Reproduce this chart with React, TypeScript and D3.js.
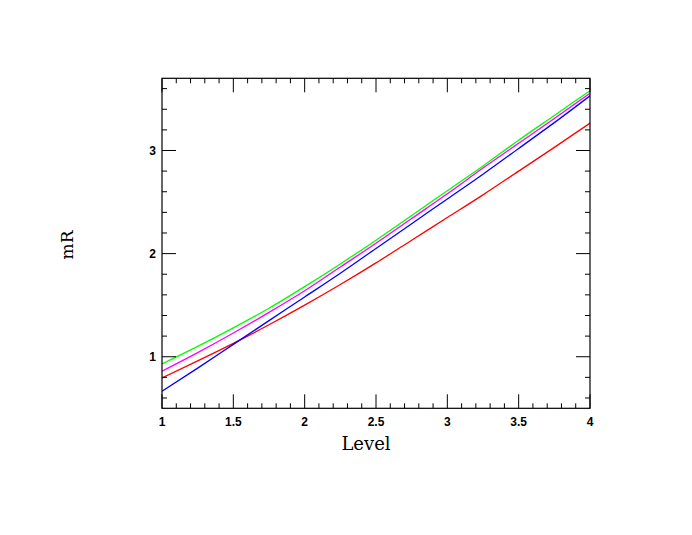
import React from "react";
import * as d3 from "d3";

const levels = [1, 1.25, 1.5, 1.75, 2, 2.25, 2.5, 2.75, 3, 3.25, 3.5, 3.75, 4];
const greenSeries = [0.93, 1.1, 1.28, 1.47, 1.68, 1.9, 2.13, 2.37, 2.61, 2.85, 3.1, 3.34, 3.58];
const magentaSeries = [0.86, 1.04, 1.23, 1.43, 1.64, 1.87, 2.1, 2.34, 2.58, 2.83, 3.07, 3.31, 3.555];
const blueSeries = [0.665, 0.89, 1.12, 1.35, 1.58, 1.81, 2.05, 2.29, 2.53, 2.77, 3.02, 3.27, 3.53];
const redSeries = [0.795, 0.96, 1.13, 1.31, 1.5, 1.7, 1.91, 2.13, 2.35, 2.57, 2.8, 3.03, 3.265];
const xMajorTicks = [1, 1.5, 2, 2.5, 3, 3.5, 4];
const yMajorTicks = [1, 2, 3];
const xLabel = "Level";
const yLabel = "mR";

const series = [
  { name: "red", values: redSeries, color: "#ff0000" },
  { name: "blue", values: blueSeries, color: "#0000ff" },
  { name: "magenta", values: magentaSeries, color: "#ff00ff" },
  { name: "green", values: greenSeries, color: "#00ff00" },
];

export default function App() {
  const W = 692, H = 535;
  const left = 162, right = 590, top = 78.3, bottom = 408.3;
  const x = d3.scaleLinear().domain([1, 4]).range([left, right]);
  const y = d3.scaleLinear().domain([0.5, 3.7]).range([bottom, top]);
  const xMinor = d3.range(10, 41).map((v) => v / 10).filter((v) => !xMajorTicks.some((m) => Math.abs(m - v) < 1e-6));
  const yMinor = d3.range(3, 19).map((v) => v / 5).filter((v) => !yMajorTicks.some((m) => Math.abs(m - v) < 1e-6));
  const line = d3
    .line<number>()
    .x((_, i) => x(levels[i]))
    .y((d) => y(d))
    .curve(d3.curveMonotoneX);
  const MAJ = 14, MIN = 5;
  const tickFont = "'Liberation Sans', Arial, sans-serif";
  const serif = "'DejaVu Serif', 'Liberation Serif', serif";
  return (
    <svg width={W} height={H} style={{ position: "absolute", left: 0, top: 0, background: "#fff" }}>
      <defs>
        <clipPath id="clip">
          <rect x={left} y={top} width={right - left} height={bottom - top} />
        </clipPath>
      </defs>
      <g clipPath="url(#clip)">
        {series.map((s) => (
          <path key={s.name} d={line(s.values) || ""} fill="none" stroke={s.color} strokeWidth={1.3} />
        ))}
      </g>
      <rect x={left} y={top} width={right - left} height={bottom - top} fill="none" stroke="#000" strokeWidth={1.2} />
      {xMajorTicks.map((t) => (
        <g key={"xM" + t}>
          <line x1={x(t)} x2={x(t)} y1={bottom} y2={bottom - MAJ} stroke="#000" />
          <line x1={x(t)} x2={x(t)} y1={top} y2={top + MAJ} stroke="#000" />
          <text x={x(t)} y={bottom + 18} textAnchor="middle" fontFamily={tickFont} fontSize={12} fontWeight="bold">
            {String(t)}
          </text>
        </g>
      ))}
      {xMinor.map((t) => (
        <g key={"xm" + t}>
          <line x1={x(t)} x2={x(t)} y1={bottom} y2={bottom - MIN} stroke="#000" />
          <line x1={x(t)} x2={x(t)} y1={top} y2={top + MIN} stroke="#000" />
        </g>
      ))}
      {yMajorTicks.map((t) => (
        <g key={"yM" + t}>
          <line x1={left} x2={left + MAJ} y1={y(t)} y2={y(t)} stroke="#000" />
          <line x1={right} x2={right - MAJ} y1={y(t)} y2={y(t)} stroke="#000" />
          <text x={left - 6} y={y(t) + 4.5} textAnchor="end" fontFamily={tickFont} fontSize={12} fontWeight="bold">
            {String(t)}
          </text>
        </g>
      ))}
      {yMinor.map((t) => (
        <g key={"ym" + t}>
          <line x1={left} x2={left + MIN} y1={y(t)} y2={y(t)} stroke="#000" />
          <line x1={right} x2={right - MIN} y1={y(t)} y2={y(t)} stroke="#000" />
        </g>
      ))}
      <text x={366} y={450} textAnchor="middle" fontFamily={serif} fontSize={18}>
        {xLabel}
      </text>
      <text transform={`translate(73, 245) rotate(-90)`} textAnchor="middle" fontFamily={serif} fontSize={17}>
        {yLabel}
      </text>
    </svg>
  );
}
